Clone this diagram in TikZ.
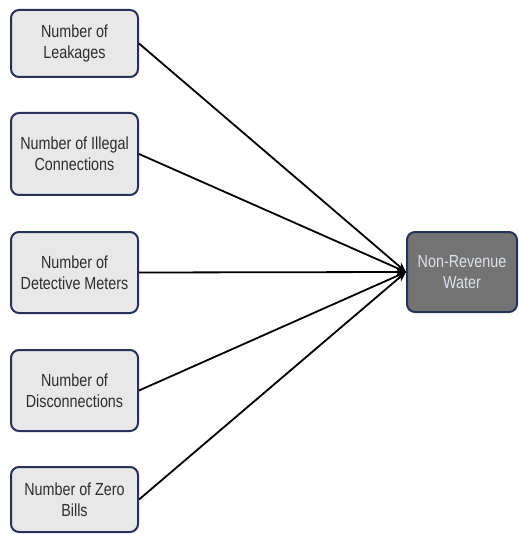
\documentclass[tikz,border=0pt]{standalone}
\usepackage{fontspec}
\setmainfont{Liberation Sans}[FakeStretch=0.82]
\usetikzlibrary{arrows.meta}
\definecolor{boxline}{HTML}{28315A}
\definecolor{boxfill}{HTML}{E8E8E8}
\definecolor{darkfill}{HTML}{737373}
\definecolor{lighttext}{HTML}{DCE1E8}
\definecolor{bodytext}{HTML}{2E2E2E}
\begin{document}
\begin{tikzpicture}[x=1pt,y=-1pt,
  factor/.style={draw=boxline, line width=2pt, fill=boxfill, rounded corners=8pt,
    minimum width=127pt, align=center, text=bodytext,
    font=\fontsize{17.5}{21}\selectfont, inner sep=0pt},
  outcome/.style={draw=boxline, line width=2pt, fill=darkfill, rounded corners=8pt,
    minimum width=110pt, minimum height=80pt, align=center, text=lighttext,
    font=\fontsize{17.5}{21}\selectfont, inner sep=0pt},
  link/.style={line width=1.8pt, -{Stealth[length=10pt,width=8pt]}}]
\useasboundingbox (0,0) rectangle (518,534);
\node[factor, minimum height=67pt] (leak) at (74.5,43.5) {Number of\\Leakages};
\node[factor, minimum height=82pt] (illegal) at (74.5,154) {Number of Illegal\\Connections};
\node[factor, minimum height=81pt] (meters) at (74.5,272.5) {Number of\\Detective Meters};
\node[factor, minimum height=81pt] (disc) at (74.5,390.5) {Number of\\Disconnections};
\node[factor, minimum height=65pt] (zero) at (74.5,499.5) {Number of Zero\\Bills};
\node[outcome] (nrw) at (462,272) {Non-Revenue\\Water};
\foreach \n in {leak,illegal,meters,disc,zero}
  \draw[link] (\n.east) -- (nrw.west);
\end{tikzpicture}
\end{document}
